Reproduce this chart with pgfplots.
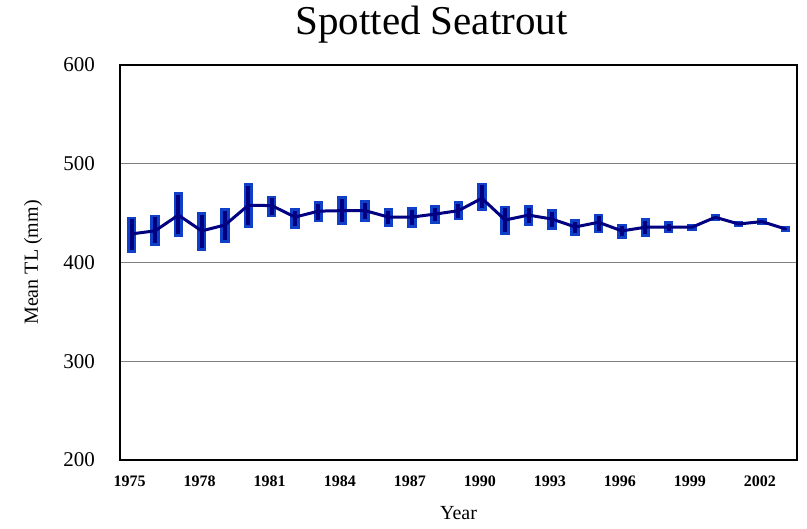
\documentclass[border=0pt]{standalone}
\usepackage{fontspec}
\setmainfont{Liberation Serif}
\usepackage{pgfplots}
\pgfplotsset{compat=1.18}
\definecolor{barblue}{RGB}{16,64,200}
\definecolor{linenavy}{RGB}{0,0,128}

% mean TL by year, with the upper and lower extent of each bar
\pgfplotstableread{
year mean up down
1975 429   17.5 19
1976 432   16.5 15
1977 448   23   22
1978 432   19   20
1979 438   17   18
1980 458   22   23
1981 457.6 10   12
1982 446   9    12
1983 452   10   11
1984 452.5 14.5 14.5
1985 452.5 10.5 11
1986 446   9    10
1987 446   10   11
1988 449   9    10
1989 452.5 9.5  9.5
1990 465   16   12.5
1991 443   14.5 15
1992 448   10   11
1993 444   10   11
1994 436   8    9
1995 440.7 8.5  11
1996 432   7    8
1997 435.7 9    9.5
1998 435.7 6    6
1999 435.7 3    3.5
2000 445.8 3.2  4
2001 439   2.7  3.3
2002 441.4 3.4  3.4
2003 434   3    3.4
}\seatrout

\begin{document}
\begin{tikzpicture}
\useasboundingbox (-120pt,-69pt) rectangle (687pt,460pt);
\begin{axis}[
    scale only axis,
    width=677pt,
    height=395pt,
    xmin=1974.5, xmax=2003.5,
    ymin=200, ymax=600,
    xtick={1975,1978,...,2002},
    ytick={200,300,...,600},
    major tick length=0pt,
    ymajorgrids,
    grid style={gray, line width=0.8pt},
    axis line style={line width=2.6pt},
    /pgf/number format/assume math mode=true,
    /pgf/number format/set thousands separator={},
    xticklabel style={font=\fontsize{16}{19}\selectfont\bfseries, yshift=-12pt, xshift=-2pt},
    yticklabel style={font=\fontsize{21}{24}\selectfont, inner sep=0pt, xshift=-25pt},
    xlabel={Year},
    ylabel={Mean TL (mm)},
    every axis x label/.style={at={(axis description cs:0.5,0)}, anchor=center, yshift=-53pt, font=\fontsize{20}{24}\selectfont},
    every axis y label/.style={at={(axis description cs:0,0.5)}, anchor=center, xshift=-87pt, rotate=90, font=\fontsize{20}{24}\selectfont},
    title={Spotted Seatrout},
    every axis title/.style={at={(axis description cs:0.5,1)}, anchor=center, yshift=40pt, xshift=-27pt, font=\fontsize{41}{48}\selectfont},
    clip=false,
]
\addplot[draw=none, no marks,
    error bars/.cd, y dir=both, y explicit, error mark=none,
    error bar style={line width=9.5pt, barblue}]
    table[x=year, y=mean, y error plus=up, y error minus=down] {\seatrout};
\addplot[draw=none, no marks,
    error bars/.cd, y dir=both, y explicit, error mark=none,
    error bar style={line width=4pt, linenavy, shorten >=2.5pt}]
    table[x=year, y=mean, y error plus=up, y error minus=down] {\seatrout};
\addplot[linenavy, line width=3pt, no marks] table[x=year, y=mean] {\seatrout};
\end{axis}
\end{tikzpicture}
\end{document}
